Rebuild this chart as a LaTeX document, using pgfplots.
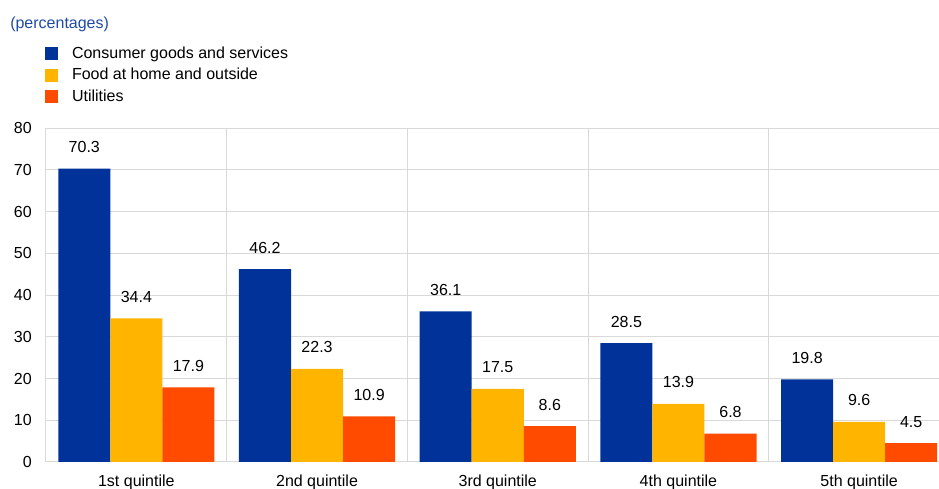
\documentclass[border=0pt]{standalone}
\usepackage{pgfplots}
\pgfplotsset{compat=1.18}
\usepackage{fontspec}
\setmainfont{Liberation Sans}
\definecolor{cblue}{HTML}{003299}
\definecolor{ctitle}{HTML}{1E4AA6}
\definecolor{cyellow}{HTML}{FFB400}
\definecolor{corange}{HTML}{FF4B00}
\definecolor{cgrid}{HTML}{D9D9D9}
\newcommand\fs{\fontsize{12pt}{14pt}\selectfont}
\begin{document}
\begin{tikzpicture}
\useasboundingbox (-34.5pt,-20.25pt) rectangle (669.75pt,346.5pt);
\begin{axis}[
  scale only axis,
  width=669.75pt, height=250.5pt,
  xmin=-0.5, xmax=4.442,
  ymin=0, ymax=80,
  ytick={0,10,...,80},
  xtick={0,...,4},
  xticklabels={1st quintile,2nd quintile,3rd quintile,4th quintile,5th quintile},
  minor xtick={-0.5,0.5,...,3.5},
  xminorgrids=true, ymajorgrids=true, xmajorgrids=false,
  grid style={cgrid, line width=0.75pt},
  minor grid style={cgrid, line width=0.75pt},
  axis line style={draw=none},
  major tick length=0pt, minor tick length=0pt,
  tick style={draw=none},
  /pgf/number format/assume math mode=true,
  tick label style={font=\fs, black},
  yticklabel style={anchor=east, inner sep=0pt, xshift=-10.5pt},
  xticklabel style={anchor=base, inner sep=0pt, yshift=-18pt},
  ybar=0pt, bar width=0.288,
  clip=false,
  nodes near coords,
  nodes near coords style={font=\fs, black, anchor=base, inner sep=0pt, yshift=12pt,
    /pgf/number format/.cd, fixed, fixed zerofill, precision=1, assume math mode=true},
  legend cell align=left,
  legend image code/.code={\fill[#1] (0pt,-4.875pt) rectangle (9.75pt,4.875pt);},
  legend style={draw=none, fill=none, inner sep=0pt, outer sep=0pt,
    at={(axis description cs:-0.0011,1.2449)}, anchor=north west,
    font=\fs, row sep=4.6pt,
    nodes={inner sep=0pt, text height=9pt, text depth=2.5pt},
    /tikz/every odd column/.append style={column sep=10.5pt}},
]
\addplot[fill=cblue, draw=none, bar shift=-0.288] coordinates {(0,70.3) (1,46.2) (2,36.1) (3,28.5) (4,19.8)};
\addplot[fill=cyellow, draw=none, bar shift=0] coordinates {(0,34.4) (1,22.3) (2,17.5) (3,13.9) (4,9.6)};
\addplot[fill=corange, draw=none, bar shift=0.288] coordinates {(0,17.9) (1,10.9) (2,8.6) (3,6.8) (4,4.5)};
\legend{Consumer goods and services, Food at home and outside, Utilities}
\end{axis}
\node[anchor=west, inner sep=0pt, font=\fs, text=ctitle] at (-27pt,328.5pt) {(percentages)};
\end{tikzpicture}
\end{document}
